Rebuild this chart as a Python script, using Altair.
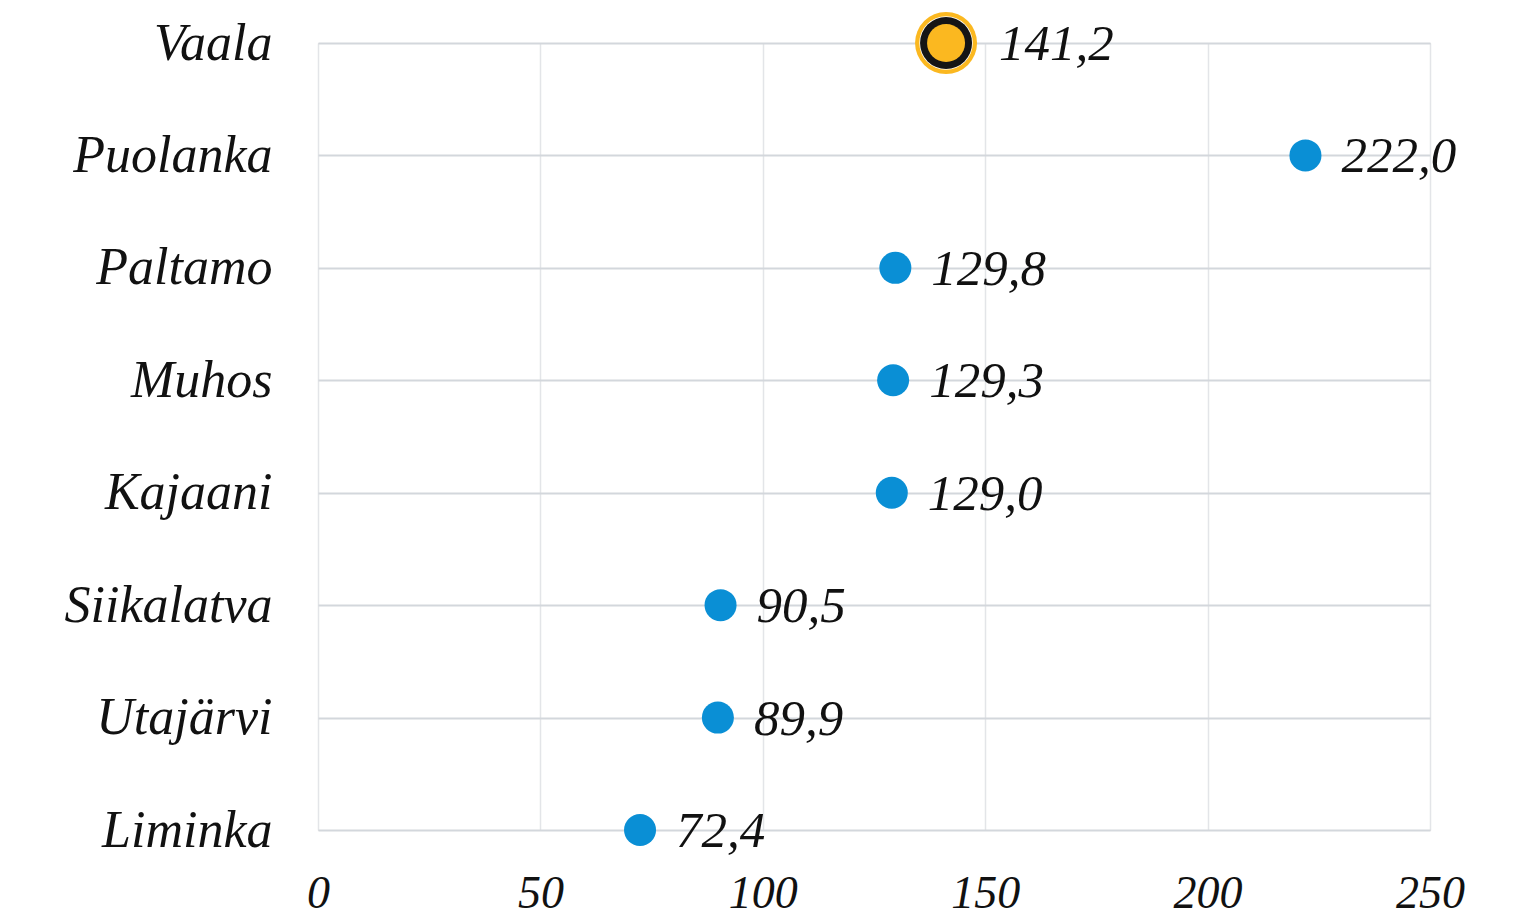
import altair as alt
import pandas as pd

municipalities = ["Vaala", "Puolanka", "Paltamo", "Muhos", "Kajaani", "Siikalatva", "Utajärvi", "Liminka"]
values = [141.2, 222.0, 129.8, 129.3, 129.0, 90.5, 89.9, 72.4]
highlight = ["Vaala"]
x_ticks = [0, 50, 100, 150, 200, 250]

df = pd.DataFrame({"kunta": municipalities, "arvo": values})
df["label"] = df["arvo"].map(lambda v: f"{v:.1f}".replace(".", ","))
df["hl"] = df["kunta"].isin(highlight)

FONT = "Liberation Serif"

x = alt.X("arvo:Q", scale=alt.Scale(domain=[0, 250], nice=False, zero=True),
          axis=alt.Axis(values=x_ticks, title=None, ticks=False, domain=False,
                        labelFont=FONT, labelFontStyle="italic", labelFontSize=46,
                        labelColor="#111", labelPadding=41, labelFlush=False,
                        labelOverlap=False,
                        gridColor="#e3e5e8", gridWidth=1.5))
y = alt.Y("kunta:N", sort=municipalities,
          scale=alt.Scale(type="point", padding=0),
          axis=alt.Axis(title=None, ticks=False, domain=False,
                        labelFont=FONT, labelFontStyle="italic", labelFontSize=52,
                        labelColor="#111", labelPadding=46, labelLimit=600,
                        grid=True, gridColor="#d3d7dc", gridWidth=2))

base = alt.Chart(df).encode(x=x, y=y)

blue = base.transform_filter("!datum.hl").mark_circle(
    size=1024, color="#0a8fd5", opacity=1)

hl = base.transform_filter("datum.hl")
outer = hl.mark_circle(size=3844, color="#fbb820", opacity=1)
white = hl.mark_circle(size=2860, color="#ffffff", opacity=1)
ring = hl.mark_circle(size=2704, color="#151515", opacity=1)
inner = hl.mark_circle(size=1444, color="#fbb820", opacity=1)

txt = base.transform_filter("!datum.hl").mark_text(
    align="left", baseline="middle", dx=36, dy=2, font=FONT, fontStyle="italic",
    fontSize=51, color="#111").encode(text="label:N")
txt_hl = hl.mark_text(
    align="left", baseline="middle", dx=53, dy=2, font=FONT, fontStyle="italic",
    fontSize=51, color="#111").encode(text="label:N")

chart = alt.layer(blue, outer, white, ring, inner, txt, txt_hl).properties(
    width=1112, height=787,
    autosize=alt.AutoSizeParams(type="none"),
    padding={"left": 310, "top": 35, "right": 85, "bottom": 92},
).configure_view(stroke=None).configure(background="white")

chart.save("out.html", embed_options={"renderer": "svg", "actions": False})
